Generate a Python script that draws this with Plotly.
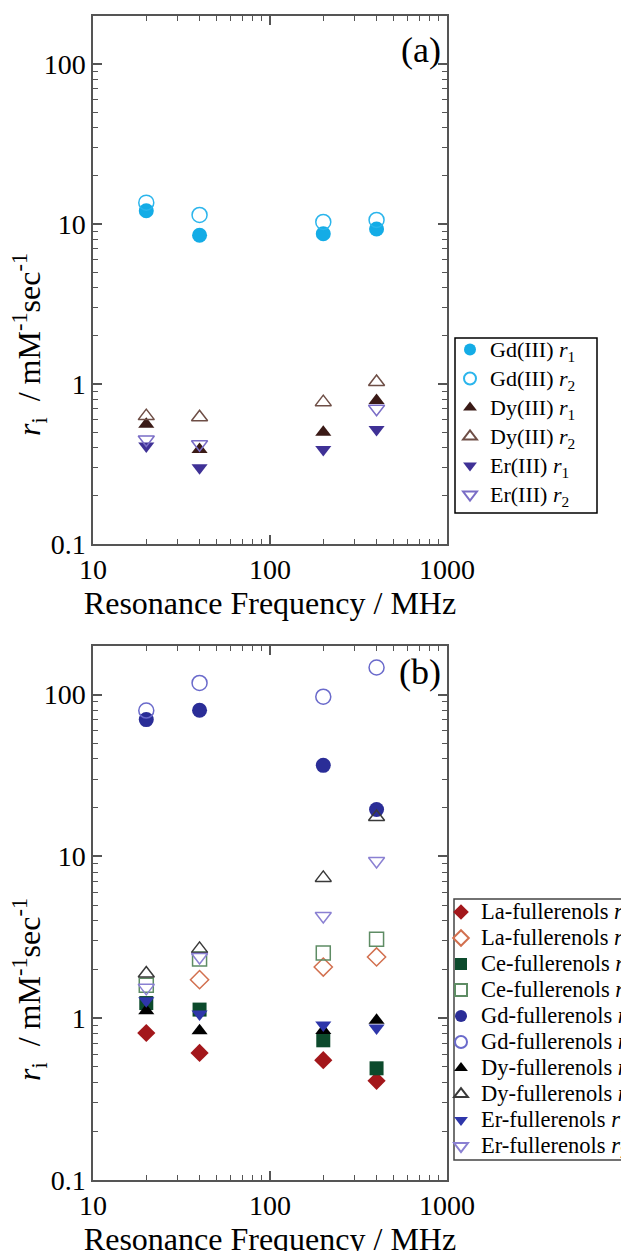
import plotly.graph_objects as go

freq = [20, 40, 200, 400]

# Panel (a): free lanthanide ions
gd3_r1 = [12.1, 8.5, 8.7, 9.3]
gd3_r2 = [13.6, 11.4, 10.3, 10.6]
dy3_r1 = [0.56, 0.39, 0.50, 0.79]
dy3_r2 = [0.63, 0.62, 0.77, 1.03]
er3_r1 = [0.41, 0.30, 0.39, 0.52]
er3_r2 = [0.45, 0.42, None, 0.70]

# Panel (b): metallofullerenols
la_r1 = [0.81, 0.61, 0.55, 0.41]
la_r2 = [None, 1.73, 2.07, 2.39]
ce_r1 = [1.24, 1.13, 0.73, 0.49]
ce_r2 = [1.60, 2.32, 2.53, 3.08]
gd_r1 = [70, 80, 36.5, 19.5]
gd_r2 = [79.6, 118, 97, 147]
dy_r1 = [1.11, 0.835, 0.84, 0.97]
dy_r2 = [1.89, 2.68, 7.36, 17.5]
er_r1 = [1.28, 1.06, 0.906, 0.87]
er_r2 = [1.54, 2.39, 4.28, 9.36]

x_ticks = [10, 100, 1000]
x_ticktext = ["10", "100", "1000"]
y_ticks = [0.1, 1, 10, 100]
y_ticktext = ["0.1", "1", "10", "100"]
x_minor = [20, 30, 40, 50, 60, 70, 80, 90, 200, 300, 400, 500, 600, 700, 800, 900]
y_minor = [0.2, 0.3, 0.4, 0.5, 0.6, 0.7, 0.8, 0.9, 2, 3, 4, 5, 6, 7, 8, 9,
           20, 30, 40, 50, 60, 70, 80, 90]

FONT = "Liberation Serif, Times New Roman, serif"

W, H = 629, 1251
OFF = 8  # page body offset of the rendered figure
L, R, T, B = 93 - OFF, 629 - (447 - OFF), 16 - OFF, 1251 - (1180 - OFF)
PW, PH = W - L - R, H - T - B


def px_x(px):  # screen pixel -> paper x
    return (px - OFF - L) / PW


def px_y(py):  # screen pixel -> paper y
    return (H - B - (py - OFF)) / PH


fig = go.Figure()


def add(y, name, symbol, color, size, xa, ya, legend, open_=False):
    marker = dict(symbol=symbol, size=size, color=color)
    marker["line"] = dict(color=color, width=1.5) if open_ else dict(width=0)
    fig.add_trace(go.Scatter(x=freq, y=y, mode="markers", name=name, marker=marker,
                             xaxis=xa, yaxis=ya, legend=legend))


def lab(s, k, fs):
    return f'<span style="font-size:{fs}px">{s} <i>r</i><sub>{k}</sub></span>'


# panel a
add(gd3_r1, lab("Gd(III)", 1, 22), "circle", "#14ACE6", 15, "x", "y", "legend")
add(gd3_r2, lab("Gd(III)", 2, 22), "circle-open", "#2BB5EC", 15, "x", "y", "legend", True)
add(dy3_r1, lab("Dy(III)", 1, 22), "triangle-up", "#3A1A16", 14, "x", "y", "legend")
add(dy3_r2, lab("Dy(III)", 2, 22), "triangle-up-open", "#6E4E46", 14, "x", "y", "legend", True)
add(er3_r1, lab("Er(III)", 1, 22), "triangle-down", "#3F3196", 14, "x", "y", "legend")
add(er3_r2, lab("Er(III)", 2, 22), "triangle-down-open", "#7A6DC6", 14, "x", "y", "legend", True)

# panel b
LF = 22.5
add(la_r1, lab("La-fullerenols", 1, LF), "diamond", "#A3171B", 14, "x2", "y2", "legend2")
add(la_r2, lab("La-fullerenols", 2, LF), "diamond-open", "#D2704F", 14, "x2", "y2", "legend2", True)
add(ce_r1, lab("Ce-fullerenols", 1, LF), "square", "#0C4A2C", 14, "x2", "y2", "legend2")
add(ce_r2, lab("Ce-fullerenols", 2, LF), "square-open", "#5E8C64", 14, "x2", "y2", "legend2", True)
add(gd_r1, lab("Gd-fullerenols", 1, LF), "circle", "#2A2D97", 15, "x2", "y2", "legend2")
add(gd_r2, lab("Gd-fullerenols", 2, LF), "circle-open", "#6A6ACB", 15, "x2", "y2", "legend2", True)
add(dy_r1, lab("Dy-fullerenols", 1, LF), "triangle-up", "#000000", 14, "x2", "y2", "legend2")
add(dy_r2, lab("Dy-fullerenols", 2, LF), "triangle-up-open", "#3A3A3A", 14, "x2", "y2", "legend2", True)
add(er_r1, lab("Er-fullerenols", 1, LF), "triangle-down", "#2E36AA", 14, "x2", "y2", "legend2")
add(er_r2, lab("Er-fullerenols", 2, LF), "triangle-down-open", "#8A80D2", 14, "x2", "y2", "legend2", True)

axcol = "#555555"
common = dict(type="log", ticks="inside", ticklen=9, tickwidth=1.5, tickcolor=axcol,
              showline=True, linecolor=axcol, linewidth=1.5, mirror="ticks",
              showgrid=False, zeroline=False, automargin=False,
              tickfont=dict(family=FONT, size=28, color="black"))
xcommon = dict(common, range=[1, 3], tickmode="array", tickvals=x_ticks, ticktext=x_ticktext,
               minor=dict(tickmode="array", tickvals=x_minor, ticks="inside", ticklen=5,
                          tickwidth=1.2, tickcolor=axcol, showgrid=False),
               title=dict(text="Resonance Frequency / MHz",
                          font=dict(family=FONT, size=32, color="black"), standoff=0))
ycommon = dict(common, range=[-1, 2.3], tickmode="array", tickvals=y_ticks, ticktext=y_ticktext,
               minor=dict(tickmode="array", tickvals=y_minor, ticks="inside", ticklen=5,
                          tickwidth=1.2, tickcolor=axcol, showgrid=False))

ytitle = "<i>r</i><sub>i</sub>  / mM<sup>-1</sup>sec<sup>-1</sup>"

fig.update_layout(
    width=W, height=H,
    margin=dict(l=L, r=R, t=T, b=B, autoexpand=False),
    font=dict(family=FONT, color="black"),
    paper_bgcolor="white", plot_bgcolor="white",
    showlegend=True,
    xaxis=dict(xcommon, anchor="y", domain=[0, 1]),
    yaxis=dict(ycommon, anchor="x", domain=[px_y(544), 1]),
    xaxis2=dict(xcommon, anchor="y2", domain=[0, 1]),
    yaxis2=dict(ycommon, anchor="x2", domain=[0, px_y(646)]),
    legend=dict(xref="container", yref="container", x=442 / W, y=1 - 322 / H,
                xanchor="left", yanchor="top", borderwidth=0,
                bgcolor="rgba(0,0,0,0)", font=dict(family=FONT, size=20, color="black"),
                itemwidth=30, tracegroupgap=0, itemsizing="constant"),
    legend2=dict(xref="container", yref="container", x=433 / W, y=1 - 886 / H,
                 xanchor="left", yanchor="top", borderwidth=0,
                 bgcolor="rgba(0,0,0,0)", font=dict(family=FONT, size=17.7, color="black"),
                 itemwidth=30, tracegroupgap=0, itemsizing="constant"),
    shapes=[
        dict(type="rect", xref="paper", yref="paper", x0=px_x(455), x1=px_x(597),
             y0=px_y(513), y1=px_y(338), line=dict(color="black", width=1.5)),
        dict(type="rect", xref="paper", yref="paper", x0=px_x(454), x1=px_x(680),
             y0=px_y(1160), y1=px_y(899), line=dict(color="#444444", width=1.5)),
    ],
    annotations=[
        dict(text="(a)", xref="paper", yref="paper", x=px_x(443), y=px_y(50), xanchor="right",
             yanchor="middle", showarrow=False, font=dict(family=FONT, size=36, color="black")),
        dict(text="(b)", xref="paper", yref="paper", x=px_x(443), y=px_y(672), xanchor="right",
             yanchor="middle", showarrow=False, font=dict(family=FONT, size=36, color="black")),
        dict(text=ytitle, xref="paper", yref="paper", x=px_x(29), y=px_y(345), textangle=-90,
             xanchor="center", yanchor="middle", showarrow=False,
             font=dict(family=FONT, size=32, color="black")),
        dict(text=ytitle, xref="paper", yref="paper", x=px_x(29), y=px_y(990), textangle=-90,
             xanchor="center", yanchor="middle", showarrow=False,
             font=dict(family=FONT, size=32, color="black")),
    ],
)

fig.write_html("out.html")
